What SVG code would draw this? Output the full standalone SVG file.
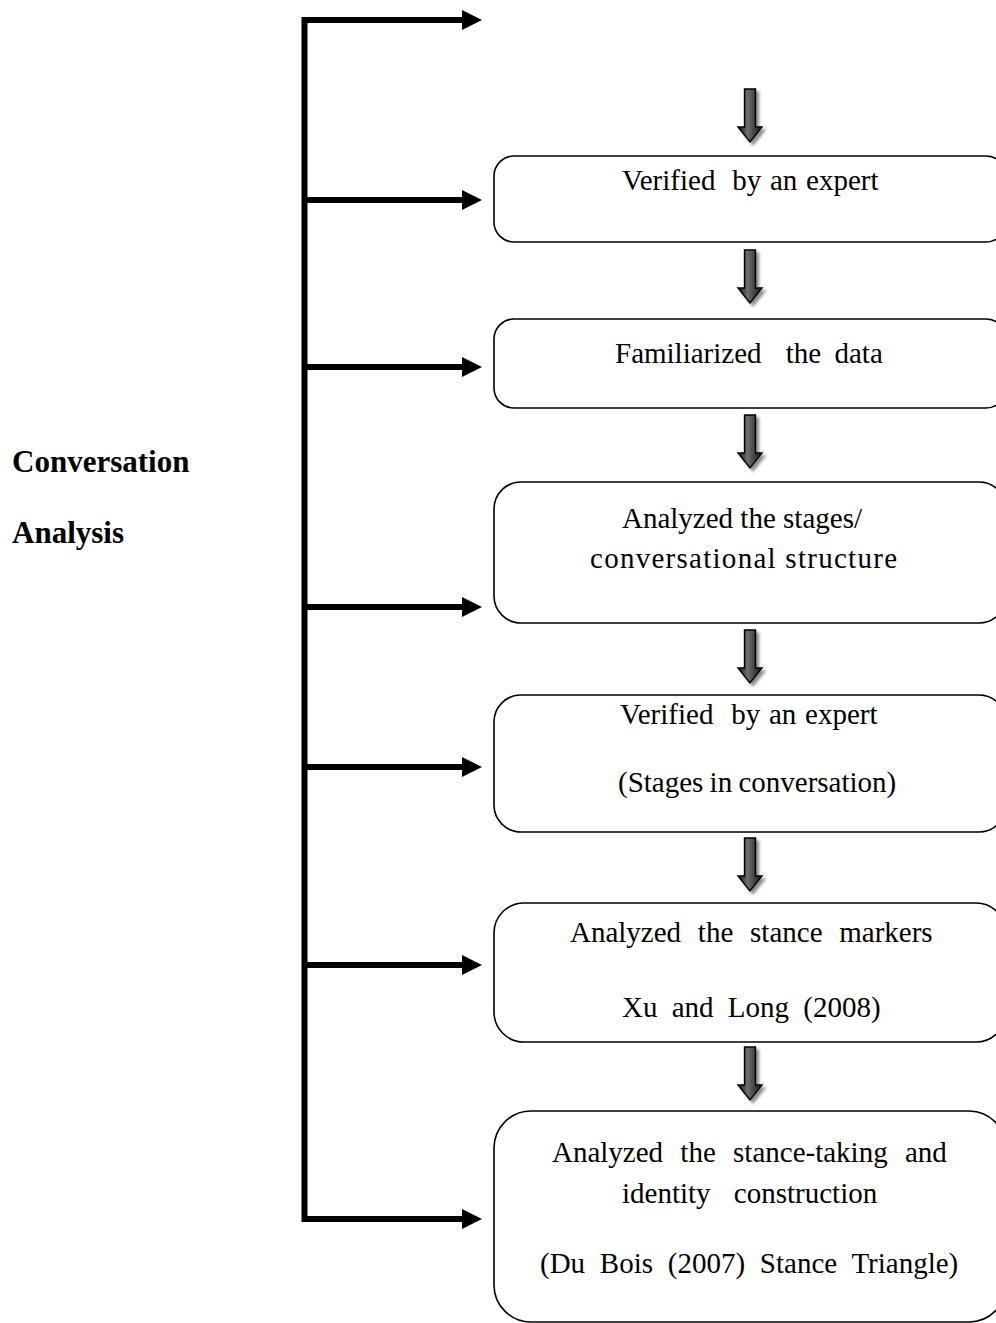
<svg xmlns="http://www.w3.org/2000/svg" width="996" height="1323" viewBox="0 0 996 1323">
  <style>
    .box { fill: #ffffff; stroke: #000000; stroke-width: 1.6; }
    .label { font-size: 29px; fill: #000000; }
    .title { font-size: 31px; font-weight: bold; fill: #000000; }
    .trunk { stroke: #000000; stroke-width: 6; fill: none; stroke-linecap: square; }
    .branch { stroke: #000000; stroke-width: 6; fill: none; }
    .head { fill: #000000; }
    .down { fill: url(#downGrad); stroke: #000000; stroke-width: 1.4; filter: url(#shadow); }
  </style>
  <defs>
    <linearGradient id="downGrad" x1="0" y1="0" x2="1" y2="0">
      <stop offset="0" stop-color="#111111"/>
      <stop offset="0.4" stop-color="#6e6e6e"/>
      <stop offset="1" stop-color="#151515"/>
    </linearGradient>
    <filter id="shadow" x="-50%" y="-20%" width="200%" height="150%">
      <feGaussianBlur in="SourceAlpha" stdDeviation="1.5"/>
      <feOffset dx="3" dy="3" result="blur"/>
      <feComponentTransfer><feFuncA type="linear" slope="0.45"/></feComponentTransfer>
      <feMerge><feMergeNode/><feMergeNode in="SourceGraphic"/></feMerge>
    </filter>
    <path id="downArrow" d="M -5.5 0 H 5.5 V 38 H 12 L 0 53 L -12 38 H -5.5 Z"/>
  </defs>

  <g font-family="Liberation Serif, Tinos, Times New Roman, serif">
  <!-- side label -->
  <g id="conversation-analysis">
    <text class="title" x="12" y="472">Conversation</text>
    <text class="title" x="12" y="543">Analysis</text>
  </g>

  <!-- bracket trunk with branch arrows -->
  <g id="connectors">
    <line class="trunk" x1="304.5" y1="20" x2="304.5" y2="1219"/>
    <line class="branch" x1="302" y1="20" x2="465" y2="20"/>
    <polygon class="head" points="462,10 482,20 462,30"/>
    <line class="branch" x1="302" y1="200" x2="465" y2="200"/>
    <polygon class="head" points="462,190 482,200 462,210"/>
    <line class="branch" x1="302" y1="367" x2="465" y2="367"/>
    <polygon class="head" points="462,357 482,367 462,377"/>
    <line class="branch" x1="302" y1="607" x2="465" y2="607"/>
    <polygon class="head" points="462,597 482,607 462,617"/>
    <line class="branch" x1="302" y1="767" x2="465" y2="767"/>
    <polygon class="head" points="462,757 482,767 462,777"/>
    <line class="branch" x1="302" y1="965" x2="465" y2="965"/>
    <polygon class="head" points="462,955 482,965 462,975"/>
    <line class="branch" x1="302" y1="1219" x2="465" y2="1219"/>
    <polygon class="head" points="462,1209 482,1219 462,1229"/>

    <!-- shaded down arrows between steps -->
    <use href="#downArrow" class="down" x="750" y="89"/>
    <use href="#downArrow" class="down" x="750" y="250"/>
    <use href="#downArrow" class="down" x="750" y="415"/>
    <use href="#downArrow" class="down" x="750" y="630"/>
    <use href="#downArrow" class="down" x="750" y="838"/>
    <use href="#downArrow" class="down" x="750" y="1047"/>
  </g>

  <g id="step-verified-1">
    <rect class="box" x="494" y="156" width="512" height="86" rx="20" ry="20"/>
    <text class="label" x="622" y="190" word-spacing="1.5">Verified <tspan dx="8">by an expert</tspan></text>
  </g>

  <g id="step-familiarized">
    <rect class="box" x="494" y="319" width="512" height="89" rx="20" ry="20"/>
    <text class="label" x="615" y="363" word-spacing="6">Familiarized <tspan dx="11">the data</tspan></text>
  </g>

  <g id="step-stages">
    <rect class="box" x="494" y="482" width="512" height="141" rx="27" ry="27"/>
    <text class="label" x="622" y="528" word-spacing="0">Analyzed the stages/</text>
    <text class="label" x="590" y="568" textLength="307" lengthAdjust="spacing">conversational structure</text>
  </g>

  <g id="step-verified-2">
    <rect class="box" x="494" y="695" width="512" height="137" rx="27" ry="27"/>
    <text class="label" x="620" y="724" word-spacing="1.5">Verified <tspan dx="9">by an expert</tspan></text>
    <text class="label" x="618" y="792" word-spacing="-1">(Stages in conversation)</text>
  </g>

  <g id="step-markers">
    <rect class="box" x="494" y="903" width="512" height="139" rx="30" ry="30"/>
    <text class="label" x="570" y="942" word-spacing="9.5">Analyzed the stance markers</text>
    <text class="label" x="622" y="1017" word-spacing="7">Xu and Long (2008)</text>
  </g>

  <g id="step-stance-taking">
    <rect class="box" x="494" y="1111" width="512" height="211" rx="37" ry="37"/>
    <text class="label" x="552" y="1162" word-spacing="10">Analyzed the stance-taking and</text>
    <text class="label" x="622" y="1203" word-spacing="16">identity construction</text>
    <text class="label" x="540" y="1273" word-spacing="7.5">(Du Bois (2007) Stance Triangle)</text>
  </g>
  </g>
</svg>
